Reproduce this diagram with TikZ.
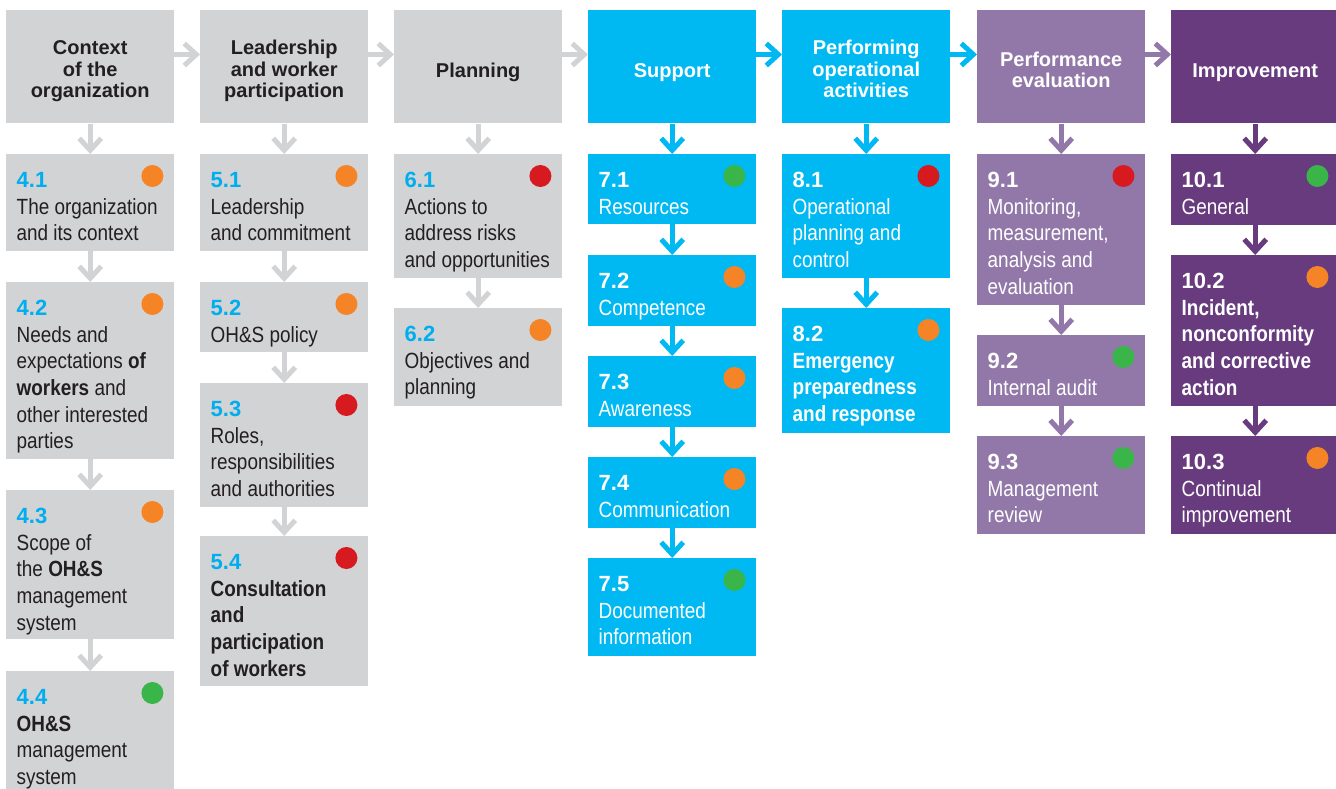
\documentclass[tikz,border=0pt]{standalone}
\usepackage{fontspec}
\setmainfont{Liberation Sans}
\newfontfamily\condf{Liberation Sans}[FakeStretch=0.86]
\usetikzlibrary{arrows.meta}
\definecolor{gbox}{HTML}{D1D3D4}
\definecolor{ink}{HTML}{231F20}
\definecolor{numcyan}{HTML}{00AEEF}
\definecolor{cbox}{HTML}{00B9F2}
\definecolor{lpbox}{HTML}{9278A9}
\definecolor{dpbox}{HTML}{673B7D}
\definecolor{dorange}{HTML}{F58426}
\definecolor{dred}{HTML}{D71920}
\definecolor{dgreen}{HTML}{39B54A}
\newcommand\numG[1]{\hbox{\normalfont\bfseries\color{numcyan}#1}}
\newcommand\numW[1]{\hbox{\normalfont\bfseries #1}}
\newcommand\txL[1]{\hbox{#1}}
\newcommand\hdL[1]{\hbox to 168pt{\hss#1\hss}}
\tikzset{
  box/.style={rectangle, draw=none, inner sep=0pt, minimum width=168pt},
  dot/.style={circle, draw=none, inner sep=0pt, minimum size=22pt},
  subtxt/.style={inner sep=0pt, font=\condf\fontsize{22}{26.6}\selectfont},
  htxt/.style={inner sep=0pt, font=\fontsize{20}{21.5}\selectfont\bfseries},
  arr/.style={line width=5pt, -{Straight Barb[length=12pt,width=22pt]}}
}
\newcommand\mkbox[8]{%
  \node[box, fill=#2, minimum height=#5pt, anchor=north west] (#1) at (#3,#4) {};
  \node[dot, fill=#6] (#1d) at ([xshift=-22pt,yshift=-22pt]#1.north east) {};
  \node[subtxt, text=#7, anchor=base west] (#1t) at ([xshift=10.5pt,yshift=-33.7pt]#1.north west) {\vtop{\baselineskip=26.6pt #8}};
}
\newcommand\mkhead[6]{%
  \node[box, fill=#2, minimum height=113pt, anchor=north west] (#1) at (#3,10.3) {};
  \node[htxt, text=#4, anchor=base west] (#1t) at ([yshift=-#5pt]#1.north west) {\vtop{\baselineskip=21.5pt #6}};
}
\begin{document}
\begin{tikzpicture}[x=1pt,y=-1pt]
\useasboundingbox (0,0) rectangle (1336,789);
% headers
\mkhead{h1}{gbox}{6}{ink}{44.7}{\hdL{Context}\hdL{of the}\hdL{organization}}
\mkhead{h2}{gbox}{200}{ink}{44.7}{\hdL{Leadership}\hdL{and worker}\hdL{participation}}
\mkhead{h3}{gbox}{394}{ink}{67.4}{\hdL{Planning}}
\mkhead{h4}{cbox}{588}{white}{67.4}{\hdL{Support}}
\mkhead{h5}{cbox}{782}{white}{44.7}{\hdL{Performing}\hdL{operational}\hdL{activities}}
\mkhead{h6}{lpbox}{977}{white}{56.2}{\hdL{Performance}\hdL{evaluation}}
\mkhead{h7}{dpbox}{1171}{white}{67.4}{\hdL{Improvement}}
% column 1
\mkbox{b41}{gbox}{6}{154}{97}{dorange}{ink}{\numG{4.1}\txL{The organization}\txL{and its context}}
\mkbox{b42}{gbox}{6}{282}{177}{dorange}{ink}{\numG{4.2}\txL{Needs and}\txL{expectations \textbf{of}}\txL{\textbf{workers} and}\txL{other interested}\txL{parties}}
\mkbox{b43}{gbox}{6}{490}{149}{dorange}{ink}{\numG{4.3}\txL{Scope of}\txL{the \textbf{OH\&S}}\txL{management}\txL{system}}
\mkbox{b44}{gbox}{6}{671}{118}{dgreen}{ink}{\numG{4.4}\txL{\textbf{OH\&S}}\txL{management}\txL{system}}
% column 2
\mkbox{b51}{gbox}{200}{154}{97}{dorange}{ink}{\numG{5.1}\txL{Leadership}\txL{and commitment}}
\mkbox{b52}{gbox}{200}{282}{70}{dorange}{ink}{\numG{5.2}\txL{OH\&S policy}}
\mkbox{b53}{gbox}{200}{383}{124}{dred}{ink}{\numG{5.3}\txL{Roles,}\txL{responsibilities}\txL{and authorities}}
\mkbox{b54}{gbox}{200}{536}{150}{dred}{ink}{\numG{5.4}\txL{\textbf{Consultation}}\txL{\textbf{and}}\txL{\textbf{participation}}\txL{\textbf{of workers}}}
% column 3
\mkbox{b61}{gbox}{394}{154}{124}{dred}{ink}{\numG{6.1}\txL{Actions to}\txL{address risks}\txL{and opportunities}}
\mkbox{b62}{gbox}{394}{308}{98}{dorange}{ink}{\numG{6.2}\txL{Objectives and}\txL{planning}}
% column 4
\mkbox{b71}{cbox}{588}{154}{70}{dgreen}{white}{\numW{7.1}\txL{Resources}}
\mkbox{b72}{cbox}{588}{255}{71}{dorange}{white}{\numW{7.2}\txL{Competence}}
\mkbox{b73}{cbox}{588}{356}{71}{dorange}{white}{\numW{7.3}\txL{Awareness}}
\mkbox{b74}{cbox}{588}{457}{71}{dorange}{white}{\numW{7.4}\txL{Communication}}
\mkbox{b75}{cbox}{588}{558}{98}{dgreen}{white}{\numW{7.5}\txL{Documented}\txL{information}}
% column 5
\mkbox{b81}{cbox}{782}{154}{124}{dred}{white}{\numW{8.1}\txL{Operational}\txL{planning and}\txL{control}}
\mkbox{b82}{cbox}{782}{308}{125}{dorange}{white}{\numW{8.2}\txL{\textbf{Emergency}}\txL{\textbf{preparedness}}\txL{\textbf{and response}}}
% column 6
\mkbox{b91}{lpbox}{977}{154}{151}{dred}{white}{\numW{9.1}\txL{Monitoring,}\txL{measurement,}\txL{analysis and}\txL{evaluation}}
\mkbox{b92}{lpbox}{977}{335}{71}{dgreen}{white}{\numW{9.2}\txL{Internal audit}}
\mkbox{b93}{lpbox}{977}{436}{98}{dgreen}{white}{\numW{9.3}\txL{Management}\txL{review}}
% column 7
\mkbox{b101}{dpbox}{1171}{154}{71}{dgreen}{white}{\numW{10.1}\txL{General}}
\mkbox{b102}{dpbox}{1171}{255}{151}{dorange}{white}{\numW{10.2}\txL{\textbf{Incident,}}\txL{\textbf{nonconformity}}\txL{\textbf{and corrective}}\txL{\textbf{action}}}
\mkbox{b103}{dpbox}{1171}{436}{98}{dorange}{white}{\numW{10.3}\txL{Continual}\txL{improvement}}
% horizontal arrows
\foreach \a/\b/\c in {h1/h2/gbox, h2/h3/gbox, h3/h4/gbox, h4/h5/cbox, h5/h6/cbox, h6/h7/lpbox}
  \draw[arr, draw=\c] ([yshift=12.5pt]\a.east) -- ([yshift=12.5pt]\b.west);
% vertical arrows
\foreach \a/\b/\c in {h1/b41/gbox, b41/b42/gbox, b42/b43/gbox, b43/b44/gbox,
  h2/b51/gbox, b51/b52/gbox, b52/b53/gbox, b53/b54/gbox,
  h3/b61/gbox, b61/b62/gbox,
  h4/b71/cbox, b71/b72/cbox, b72/b73/cbox, b73/b74/cbox, b74/b75/cbox,
  h5/b81/cbox, b81/b82/cbox,
  h6/b91/lpbox, b91/b92/lpbox, b92/b93/lpbox,
  h7/b101/dpbox, b101/b102/dpbox, b102/b103/dpbox}
  \draw[arr, draw=\c] (\a.south) -- (\b.north);
\end{tikzpicture}
\end{document}
